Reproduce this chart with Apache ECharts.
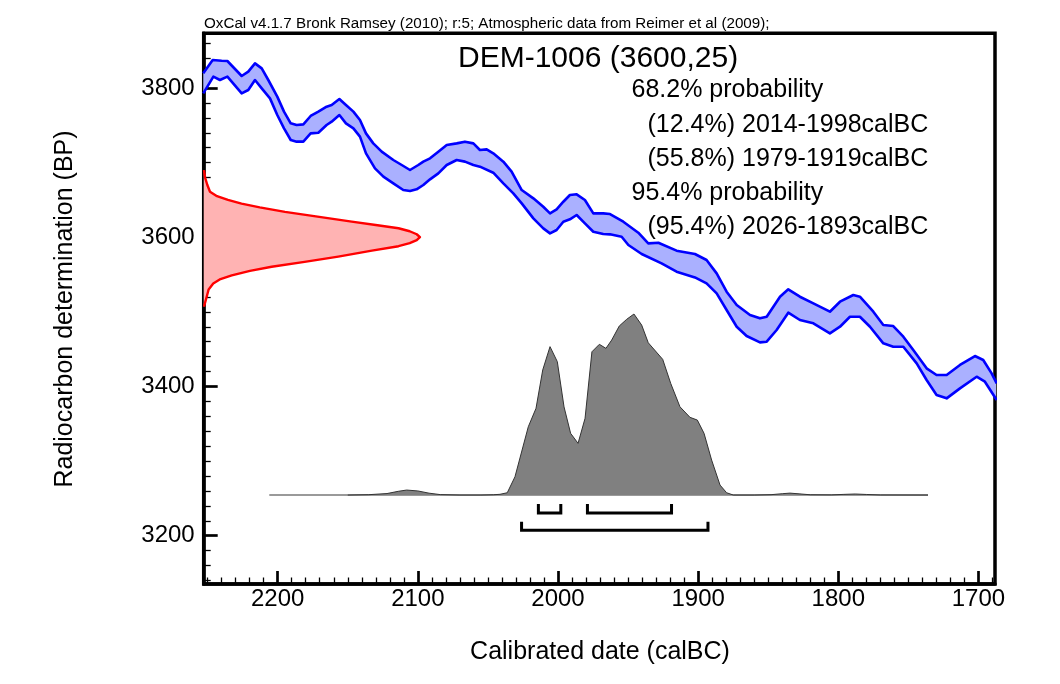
<!DOCTYPE html>
<html>
<head>
<meta charset="utf-8">
<script src="https://cdn.jsdelivr.net/npm/echarts@6.0.0/dist/echarts.min.js"></script>
<style>
  html, body { margin: 0; padding: 0; background: #ffffff; }
  #chart { width: 1060px; height: 684px; }
</style>
</head>
<body>
<div id="chart"></div>
<script>
// ---------------- data ----------------
const xTickLabels = [2200, 2100, 2000, 1900, 1800, 1700];
const xMinorTicks = [2250,2240,2230,2220,2210,2190,2180,2170,2160,2150,2140,2130,2120,2110,2090,2080,2070,2060,2050,2040,2030,2020,2010,1990,1980,1970,1960,1950,1940,1930,1920,1910,1890,1880,1870,1860,1850,1840,1830,1820,1810,1790,1780,1770,1760,1750,1740,1730,1720,1710,1690];
const yTickLabels = [3200, 3400, 3600, 3800];
const yMinorTicks = [3140,3160,3180,3220,3240,3260,3280,3300,3320,3340,3360,3380,3420,3440,3460,3480,3500,3520,3540,3560,3580,3620,3640,3660,3680,3700,3720,3740,3760,3780,3820,3840,3860];

// calibration curve band edges [calBC, BP]
const curveUpper = [[2253.1,3819.6],[2246.4,3837.5],[2240.0,3836.6],[2235.9,3836.2],[2225.7,3816.1],[2221.0,3821.9],[2216.2,3833.0],[2211.4,3826.3],[2206.7,3810.7],[2200.3,3788.4],[2195.5,3768.3],[2190.7,3752.6],[2186.5,3750.4],[2181.7,3751.3],[2176.5,3762.5],[2171.0,3768.3],[2165.1,3775.0],[2161.5,3777.2],[2156.0,3785.2],[2151.3,3777.2],[2146.0,3768.3],[2141.3,3757.1],[2137.0,3739.2],[2131.8,3725.8],[2125.8,3714.7],[2117.5,3703.5],[2111.5,3696.8],[2105.6,3690.1],[2099.7,3696.8],[2096.1,3701.3],[2091.3,3705.7],[2085.4,3714.7],[2079.4,3723.6],[2072.3,3725.8],[2066.4,3728.1],[2060.4,3725.8],[2055.7,3716.9],[2050.9,3717.8],[2046.2,3712.4],[2039.0,3701.3],[2033.1,3687.9],[2025.9,3663.3],[2017.6,3652.1],[2010.5,3640.9],[2005.7,3632.0],[2001.0,3637.4],[1996.2,3647.6],[1991.5,3656.6],[1986.7,3657.5],[1980.8,3649.9],[1974.8,3632.0],[1967.7,3632.0],[1962.9,3631.1],[1953.4,3620.8],[1942.7,3606.1],[1935.6,3591.8],[1928.4,3592.7],[1915.4,3582.0],[1902.3,3577.5],[1894.0,3569.5],[1886.8,3551.6],[1879.7,3527.0],[1872.5,3509.2],[1863.0,3495.8],[1855.9,3491.3],[1851.1,3493.5],[1841.6,3520.3],[1835.7,3530.2],[1827.4,3520.3],[1817.8,3511.4],[1806.0,3500.2],[1798.8,3513.6],[1789.3,3522.6],[1784.6,3520.3],[1775.0,3500.2],[1767.9,3482.4],[1760.8,3481.0],[1753.6,3466.7],[1746.5,3448.9],[1737.0,3424.3],[1729.9,3415.4],[1722.7,3415.4],[1713.2,3428.8],[1702.5,3440.8],[1696.6,3435.5],[1690.6,3417.6],[1687.0,3404.2]];
const curveLower = [[2253.1,3792.8],[2245.9,3815.2],[2241.2,3810.7],[2235.9,3815.2],[2225.7,3792.8],[2221.0,3797.3],[2216.2,3810.7],[2211.4,3799.5],[2205.5,3786.1],[2200.3,3763.8],[2195.5,3745.9],[2190.7,3730.3],[2186.5,3728.1],[2181.7,3728.1],[2176.5,3739.2],[2171.0,3740.1],[2165.1,3750.4],[2161.5,3754.9],[2156.0,3763.8],[2151.3,3752.6],[2146.0,3745.9],[2141.3,3734.8],[2137.0,3712.4],[2130.6,3692.3],[2124.6,3681.2],[2117.5,3672.2],[2110.4,3663.3],[2105.6,3661.9],[2100.9,3664.2],[2096.1,3670.0],[2091.3,3677.6],[2085.4,3685.6],[2079.4,3696.8],[2072.3,3703.5],[2066.4,3701.3],[2060.4,3696.8],[2055.7,3694.6],[2046.2,3686.5],[2039.0,3672.2],[2031.9,3658.8],[2025.9,3645.4],[2017.6,3625.3],[2010.5,3611.9],[2005.7,3605.2],[2001.0,3609.7],[1996.2,3620.8],[1991.5,3624.0],[1986.7,3629.8],[1980.8,3618.6],[1974.8,3607.4],[1967.7,3604.3],[1962.9,3603.9],[1954.6,3600.7],[1949.8,3589.6],[1940.3,3577.5],[1926.1,3565.0],[1915.4,3553.8],[1902.3,3546.2],[1894.0,3538.2],[1886.8,3524.8],[1879.7,3502.5],[1872.5,3480.1],[1865.4,3467.6],[1855.9,3459.1],[1851.1,3460.0],[1844.0,3475.7],[1835.7,3498.9],[1827.4,3489.1],[1817.8,3484.6],[1806.0,3471.2],[1798.8,3480.1],[1791.7,3493.5],[1784.6,3493.5],[1777.4,3480.1],[1767.9,3457.8],[1760.8,3453.3],[1753.6,3453.3],[1744.1,3431.0],[1737.0,3408.7],[1729.9,3388.6],[1722.7,3384.1],[1713.2,3397.5],[1701.3,3413.1],[1695.4,3406.4],[1687.0,3381.9]];

// radiocarbon measurement distribution on the BP axis: BP and extent (years, from the left edge)
const measBP  = [3690,3680,3670,3661,3655,3650,3645,3640,3634,3628,3621,3616,3612,3608,3604,3600,3596,3592,3588,3582,3578,3574,3567,3560.5,3555,3549,3544,3538,3530,3520,3507];
const measExt = [0.2,1.0,2.6,4.5,9.5,17.3,27,40,58,80,105.6,124,139,147,152,154.3,152,147,139,120,108,96,72,48.5,33,20,12,6.8,3.5,2.1,0.2];

// calibrated probability distribution: calBC and height above baseline (BP units)
const calBC   = [2206,2150,2135,2122,2114,2108,2100,2092,2084,2070,2055,2046,2041.4,2036.2,2030.7,2021.2,2015.7,2010.9,2005.7,2000.5,1995.7,1991,1985.7,1980.7,1975.8,1970.5,1965.8,1961.7,1956.3,1951,1945.8,1940.3,1935.6,1925.3,1919.6,1913,1905.8,1900.6,1895.8,1890.4,1884.4,1879.7,1874.9,1860,1848,1840,1834.5,1828,1820,1805,1796,1788,1780,1770,1736];
const calProb = [0,0,0.5,2,5,6.7,5.5,2.5,0.6,0,0,0.4,1,3.1,24.5,91.5,116.2,167.6,198.9,178.8,118.1,82.7,69.3,102.8,192.0,202.0,196.6,207.7,226.5,235.5,242.6,227.8,204.1,181.9,149.7,118.3,104.1,100.5,82.7,46.9,13.4,3.1,0,0,0.5,1.8,2.6,1.6,0.4,0.2,0.9,1.4,0.8,0.1,0];

// highest probability ranges (calBC)
const range68 = [[2014,1998],[1979,1919]];
const range95 = [[2026,1893]];

const headerText = 'OxCal v4.1.7 Bronk Ramsey (2010); r:5; Atmospheric data from Reimer et al (2009);';
const titleText = 'DEM-1006 (3600,25)';
const summaryLines = ['68.2% probability', '(12.4%) 2014-1998calBC', '(55.8%) 1979-1919calBC', '95.4% probability', '(95.4%) 2026-1893calBC'];
const xTitle = 'Calibrated date (calBC)';
const yTitle = 'Radiocarbon determination (BP)';

// ---------------- layout / scale constants ----------------
const X_MIN = 1688.2, X_MAX = 2252.8, Y_MIN = 3135.3, Y_MAX = 3873.3;
const DIST_BASE = 3254.5;                  // BP level of the distribution baseline
const BRACKET_BAR = [3230.4, 3207.2];       // 68%, 95%
const BRACKET_TOP = [3242.5, 3218.8];
const FONT = '"Liberation Sans", Arial, sans-serif';

// ---------------- derived series data ----------------
const bandPolygon = curveUpper.concat(curveLower.slice().reverse());
const measCurve = measBP.map((b, i) => [X_MAX - measExt[i], b]);
const measPolygon = [[X_MAX, measBP[0]]].concat(measCurve, [[X_MAX, measBP[measBP.length - 1]]]);
const distCurve = calBC.map((c, i) => [c, DIST_BASE + calProb[i]]);
const bracketData = range68.map(r => [r[0], r[1], 0]).concat(range95.map(r => [r[0], r[1], 1]));

// outline segments of the distribution (only where it rises above baseline)
const distSegments = [];
let seg = [];
for (let i = 0; i < calBC.length; i++) {
  const on = calProb[i] > 0 || (i > 0 && calProb[i-1] > 0) || (i < calBC.length - 1 && calProb[i+1] > 0);
  if (on) seg.push(distCurve[i]);
  else if (seg.length) { distSegments.push(seg); seg = []; }
}
if (seg.length) distSegments.push(seg);

function polygonSeries(points, style, z) {
  return {
    type: 'custom', coordinateSystem: 'cartesian2d', data: points, clip: true, silent: true, z: z,
    renderItem: function (params, api) {
      if (params.dataIndex !== 0) return null;
      return { type: 'polygon', shape: { points: points.map(p => api.coord(p)) }, style: style };
    }
  };
}
function lineSeries(points, color, width, z) {
  return {
    type: 'line', data: points, showSymbol: false, symbol: 'none', silent: true, clip: true, z: z,
    lineStyle: { color: color, width: width, join: 'round' }, animation: false
  };
}

const chart = echarts.init(document.getElementById('chart'), null, { renderer: 'canvas' });

const series = [
  polygonSeries(bandPolygon, { fill: '#aab0ff' }, 1),
  lineSeries(curveUpper, '#0000ff', 2.6, 2),
  lineSeries(curveLower, '#0000ff', 2.6, 2),
  polygonSeries(measPolygon, { fill: '#ffb3b3' }, 3),
  lineSeries(measCurve, '#ff0000', 2.4, 4),
  lineSeries([[calBC[0], DIST_BASE], [calBC[calBC.length - 1], DIST_BASE]], '#9a9a9a', 2, 5),
  polygonSeries(distCurve, { fill: '#808080' }, 6)
];
distSegments.forEach(s => series.push(lineSeries(s, '#333333', 1, 7)));
series.push({
  type: 'custom', coordinateSystem: 'cartesian2d', data: bracketData, silent: true, z: 8,
  renderItem: function (params, api) {
    const s = api.value(0), e = api.value(1), lvl = api.value(2);
    const pts = [api.coord([s, BRACKET_TOP[lvl]]), api.coord([s, BRACKET_BAR[lvl]]),
                 api.coord([e, BRACKET_BAR[lvl]]), api.coord([e, BRACKET_TOP[lvl]])];
    return { type: 'polyline', shape: { points: pts }, style: { stroke: '#000', lineWidth: 3, fill: null } };
  }
});

const textStyle = (size) => ({ fill: '#000', fontFamily: FONT, fontSize: size });
const graphic = [
  { type: 'text', x: 204, y: 24, style: Object.assign({ text: headerText, align: 'left', verticalAlign: 'middle' }, textStyle(15.2)) },
  { type: 'text', x: 458, y: 58.5, style: Object.assign({ text: titleText, align: 'left', verticalAlign: 'middle' }, textStyle(30)) },
  { type: 'text', x: 631.5, y: 90.5, style: Object.assign({ text: summaryLines[0], align: 'left', verticalAlign: 'middle' }, textStyle(25)) },
  { type: 'text', x: 647.5, y: 125.5, style: Object.assign({ text: summaryLines[1], align: 'left', verticalAlign: 'middle' }, textStyle(25)) },
  { type: 'text', x: 647.5, y: 159.5, style: Object.assign({ text: summaryLines[2], align: 'left', verticalAlign: 'middle' }, textStyle(25)) },
  { type: 'text', x: 631.5, y: 193.5, style: Object.assign({ text: summaryLines[3], align: 'left', verticalAlign: 'middle' }, textStyle(25)) },
  { type: 'text', x: 647.5, y: 227.5, style: Object.assign({ text: summaryLines[4], align: 'left', verticalAlign: 'middle' }, textStyle(25)) },
  { type: 'text', x: 600, y: 652, style: Object.assign({ text: xTitle, align: 'center', verticalAlign: 'middle' }, textStyle(25)) },
  { type: 'text', x: 65.5, y: 309, rotation: Math.PI / 2, style: Object.assign({ text: yTitle, align: 'center', verticalAlign: 'middle' }, textStyle(25)) }
];

const axisLabelStyle = { color: '#000', fontFamily: FONT, fontSize: 24 };

chart.setOption({
  backgroundColor: '#ffffff',
  animation: false,
  grid: { left: 203.7, right: 65, top: 33.3, bottom: 100, show: true, borderColor: '#000', borderWidth: 3.5, backgroundColor: 'transparent', containLabel: false },
  xAxis: [
    { type: 'value', min: X_MIN, max: X_MAX, inverse: true, position: 'bottom',
      axisLine: { show: true, onZero: false, lineStyle: { color: '#000', width: 3.5 } },
      axisTick: { show: true, inside: true, length: 13, lineStyle: { color: '#000', width: 2.7 }, customValues: xTickLabels },
      axisLabel: Object.assign({ show: true, margin: 3, customValues: xTickLabels, formatter: v => String(v) }, axisLabelStyle),
      splitLine: { show: false } },
    { type: 'value', min: X_MIN, max: X_MAX, inverse: true, position: 'bottom', offset: 0,
      axisLine: { show: false, onZero: false },
      axisTick: { show: true, inside: true, length: 6.5, lineStyle: { color: '#000', width: 1.3 }, customValues: xMinorTicks },
      axisLabel: { show: false }, splitLine: { show: false } }
  ],
  yAxis: [
    { type: 'value', min: Y_MIN, max: Y_MAX, position: 'left',
      axisLine: { show: true, onZero: false, lineStyle: { color: '#000', width: 3.5 } },
      axisTick: { show: true, inside: true, length: 14, lineStyle: { color: '#000', width: 2.7 }, customValues: yTickLabels },
      axisLabel: Object.assign({ show: true, margin: 9, customValues: yTickLabels, formatter: v => String(v) }, axisLabelStyle),
      splitLine: { show: false } },
    { type: 'value', min: Y_MIN, max: Y_MAX, position: 'left', offset: 0,
      axisLine: { show: false, onZero: false },
      axisTick: { show: true, inside: true, length: 7, lineStyle: { color: '#000', width: 1.3 }, customValues: yMinorTicks },
      axisLabel: { show: false }, splitLine: { show: false } }
  ],
  series: series,
  graphic: graphic
});
</script>
</body>
</html>
